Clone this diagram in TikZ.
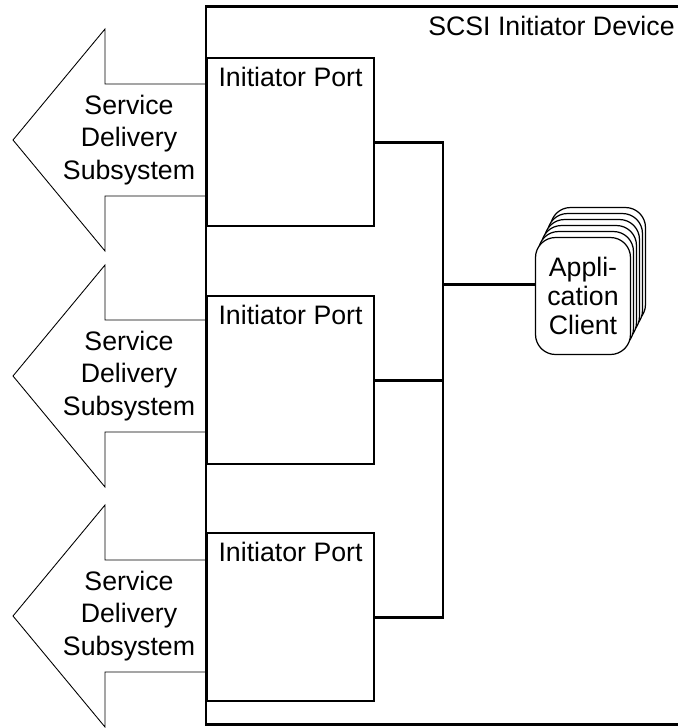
\documentclass[tikz,border=0pt]{standalone}
\usepackage{fontspec}
\setmainfont{Liberation Sans}
\usetikzlibrary{positioning}

\begin{document}
\begin{tikzpicture}[
  x=0.02cm, y=-0.02cm,
  devbox/.style={line width=1.7pt},
  port/.style={rectangle,draw,line width=1.2pt,minimum width=3.34cm,minimum height=3.36cm,
               anchor=north west,inner sep=0pt},
  lbl/.style={inner sep=0pt,font=\fontsize{15.2}{18.4}\selectfont},
  sds/.style={line width=0.5pt},
  sdstext/.style={align=center,inner sep=0pt,font=\fontsize{15.2}{18.4}\selectfont},
  card/.style={rectangle,rounded corners=0.4cm,draw,fill=white,line width=0.7pt,
               minimum width=1.9cm,minimum height=2.34cm,align=center,inner sep=0pt,
               font=\fontsize{15.2}{16.5}\selectfont},
  bus/.style={line width=1.7pt}
]
  \useasboundingbox (0,0) rectangle (678,728);
  % device
  \draw[devbox] (206,6) rectangle (720,724);
  \node[lbl,anchor=base east] (title) at (675,35) {SCSI Initiator Device};
  % ports
  \node[port] (p1) at (206,57) {};
  \node[port] (p2) at (206,295) {};
  \node[port] (p3) at (206,532) {};
  \foreach \p in {p1,p2,p3}
    \node[lbl,below=0.2cm of \p.north] (\p-lbl) {Initiator Port};
  % service delivery subsystems
  \foreach \i/\yc in {1/140,2/376,3/616}{
    \draw[sds] (206,\yc-56) -- (105,\yc-56) -- (105,\yc-111) -- (13,\yc)
               -- (105,\yc+111) -- (105,\yc+56) -- (206,\yc+56);
    \node[sdstext] (sds\i) at (129,\yc) {Service\\Delivery\\Subsystem};
  }
  % application clients
  \foreach \k in {5,4,3,2,1}
    \node[card] (app\k) at (583+3*\k,296-6*\k) {};
  \node[card] (app) at (583,296) {Appli-\\cation\\Client};
  % bus
  \coordinate (jn) at (443,284);
  \draw[bus] (p1.east) -| (jn) |- (p3.east);
  \draw[bus] (p2.east) -- (p2.east -| jn);
  \draw[bus] (jn) -- (jn -| app.west);
\end{tikzpicture}
\end{document}
